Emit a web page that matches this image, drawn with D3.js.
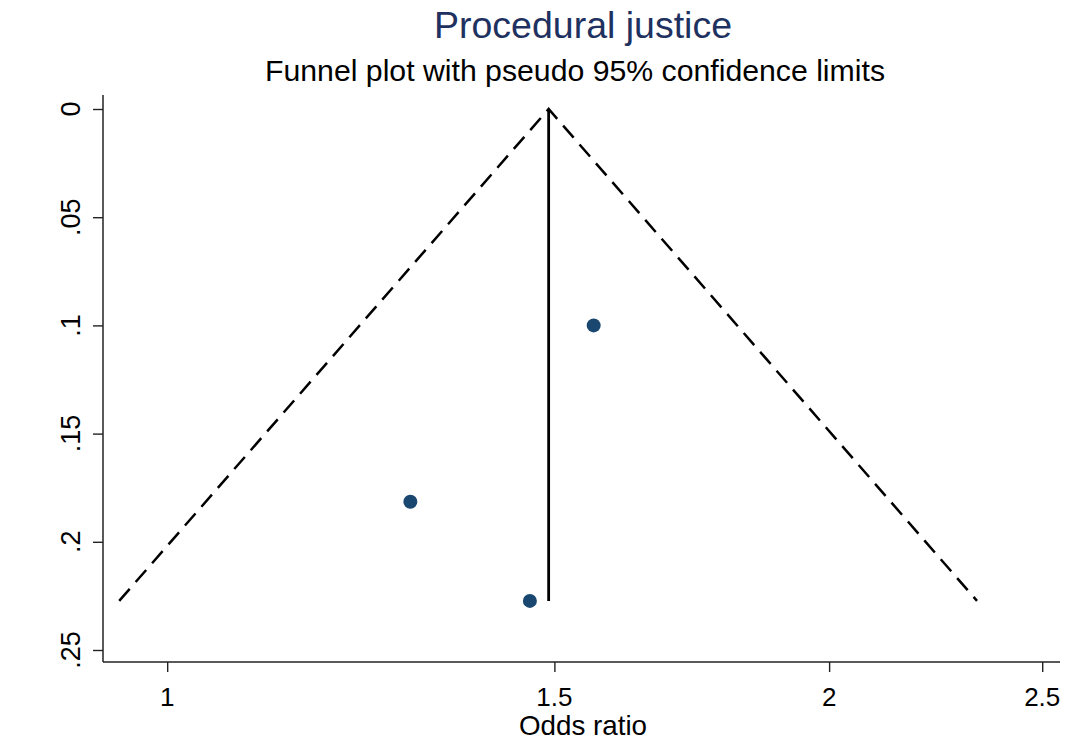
<!DOCTYPE html>
<html>
<head>
<meta charset="UTF-8">
<script src="https://cdn.jsdelivr.net/npm/d3@7"></script>
<style>
  body { margin: 0; background: #fff; }
  text { font-family: "Liberation Sans", Arial, sans-serif; }
  .line { fill: none; stroke: #000; }
</style>
</head>
<body>
<svg width="1072" height="740"></svg>
<script>
// study estimates: odds ratio and standard error of log OR
var studyOR = [1.563, 1.290, 1.462];
var studySE = [0.100, 0.1815, 0.2273];

// pooled estimate and pseudo 95% limits at the largest SE
var pooledOR = 1.491;
var maxSE = 0.2273;
var lowerOR = 0.951;
var upperOR = 2.335;

var xTicks = [1, 1.5, 2, 2.5];
var yTicks = [0, 0.05, 0.1, 0.15, 0.2, 0.25];

var svg = d3.select('svg');

var x = d3.scaleLog().domain([0.935, 2.547]).range([103, 1060]),
    y = d3.scaleLinear().domain([0, 0.25]).range([109, 650]);

var fmt = function(d) { return String(d).replace(/^0\./, '.'); };

// axes
var yAxis = svg.append('g')
    .attr('transform', 'translate(103,0)')
    .call(d3.axisLeft(y).tickValues(yTicks).tickSize(10).tickSizeOuter(0).tickFormat(''));
var xAxis = svg.append('g')
    .attr('transform', 'translate(0,662)')
    .call(d3.axisBottom(x).tickValues(xTicks).tickSize(10).tickSizeOuter(0).tickFormat(''));
[yAxis, xAxis].forEach(function(a) {
  a.select('.domain').remove();
  a.selectAll('line').attr('stroke', '#222').attr('stroke-width', 1.4);
});
svg.append('line').attr('x1', 103).attr('x2', 103).attr('y1', 95).attr('y2', 662)
   .attr('stroke', '#222').attr('stroke-width', 1.5);
svg.append('line').attr('x1', 103).attr('x2', 1060).attr('y1', 662).attr('y2', 662)
   .attr('stroke', '#222').attr('stroke-width', 1.5);

svg.selectAll('.ylab').data(yTicks).enter().append('text')
   .attr('class', 'ylab')
   .attr('transform', function(d) { return 'translate(80,' + y(d) + ') rotate(-90)'; })
   .attr('text-anchor', 'middle')
   .style('font-size', '27px')
   .text(fmt);

svg.selectAll('.xlab').data(xTicks).enter().append('text')
   .attr('class', 'xlab')
   .attr('x', function(d) { return x(d); })
   .attr('y', 706)
   .attr('text-anchor', 'middle')
   .style('font-size', '26px')
   .text(function(d) { return d; });

svg.append('text').attr('x', 583).attr('y', 735)
   .attr('text-anchor', 'middle').style('font-size', '28px')
   .attr('textLength', 128).attr('lengthAdjust', 'spacingAndGlyphs')
   .text('Odds ratio');

// titles
svg.append('text').attr('x', 583).attr('y', 38)
   .attr('text-anchor', 'middle').style('font-size', '37.5px')
   .attr('fill', '#1e3160')
   .text('Procedural justice');
svg.append('text').attr('x', 575).attr('y', 81)
   .attr('text-anchor', 'middle').style('font-size', '30px')
   .attr('textLength', 620).attr('lengthAdjust', 'spacingAndGlyphs')
   .text('Funnel plot with pseudo 95% confidence limits');

// funnel limits
var line = d3.line().x(function(d) { return x(d[0]); }).y(function(d) { return y(d[1]); });
svg.append('path').attr('class', 'line')
   .attr('d', line([[lowerOR, maxSE], [pooledOR, 0], [upperOR, maxSE]]))
   .attr('stroke-width', 2.5)
   .attr('stroke-dasharray', '16,9');

svg.append('path').attr('class', 'line')
   .attr('d', line([[pooledOR, 0], [pooledOR, maxSE]]))
   .attr('stroke-width', 2.8);

// studies
svg.selectAll('.dot').data(studyOR).enter().append('circle')
   .attr('class', 'dot')
   .attr('cx', function(d) { return x(d); })
   .attr('cy', function(d, i) { return y(studySE[i]); })
   .attr('r', 7)
   .attr('fill', '#1a476f');
</script>
</body>
</html>
